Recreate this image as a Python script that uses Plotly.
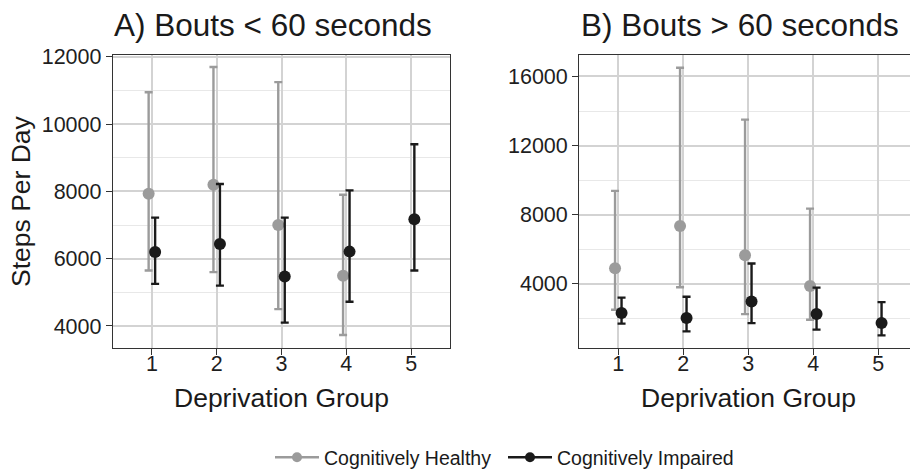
import numpy as np
import plotly.graph_objects as go

groups = [1, 2, 3, 4, 5]

# Panel A: Bouts < 60 seconds
a_healthy_groups = [1, 2, 3, 4]
a_healthy_mean = [7930, 8200, 7000, 5490]
a_healthy_upper = [10950, 11700, 11250, 7900]
a_healthy_lower = [5650, 5600, 4500, 3730]

a_impaired_groups = [1, 2, 3, 4, 5]
a_impaired_mean = [6200, 6440, 5470, 6210, 7170]
a_impaired_upper = [7220, 8220, 7220, 8030, 9400]
a_impaired_lower = [5250, 5200, 4100, 4720, 5650]

# Panel B: Bouts > 60 seconds
b_healthy_groups = [1, 2, 3, 4]
b_healthy_mean = [4900, 7350, 5650, 3880]
b_healthy_upper = [9380, 16500, 13500, 8350]
b_healthy_lower = [2500, 3800, 2250, 1920]

b_impaired_groups = [1, 2, 3, 4, 5]
b_impaired_mean = [2310, 2020, 2980, 2250, 1730]
b_impaired_upper = [3200, 3250, 5180, 3780, 2940]
b_impaired_lower = [1700, 1250, 1730, 1350, 1020]

a_yticks = [4000, 6000, 8000, 10000, 12000]
b_yticks = [4000, 8000, 12000, 16000]

series_names = ["Cognitively Healthy", "Cognitively Impaired"]
GRAY = "#9b9b9b"
BLACK = "#1a1a1a"
FONT = "Liberation Sans, Arial, sans-serif"
DODGE = 0.05

W, H = 910, 470


def px_x(p):
    return p / W


def px_y(p):
    return (H - p) / H


fig = go.Figure()


def add_series(groups_, mean, upper, lower, color, offset, xa, ya):
    m = np.array(mean)
    fig.add_trace(go.Scatter(
        x=np.array(groups_) + offset, y=m, mode="markers",
        marker=dict(color=color, size=12),
        error_y=dict(type="data", symmetric=False,
                     array=np.array(upper) - m, arrayminus=m - np.array(lower),
                     color=color, thickness=2.4, width=4),
        xaxis=xa, yaxis=ya, showlegend=False, hoverinfo="skip"))


add_series(a_healthy_groups, a_healthy_mean, a_healthy_upper, a_healthy_lower, GRAY, -DODGE, "x", "y")
add_series(a_impaired_groups, a_impaired_mean, a_impaired_upper, a_impaired_lower, BLACK, DODGE, "x", "y")
add_series(b_healthy_groups, b_healthy_mean, b_healthy_upper, b_healthy_lower, GRAY, -DODGE, "x2", "y2")
add_series(b_impaired_groups, b_impaired_mean, b_impaired_upper, b_impaired_lower, BLACK, DODGE, "x2", "y2")

for name, color, lg in zip(series_names, [GRAY, BLACK], ["legend", "legend2"]):
    fig.add_trace(go.Scatter(x=[None], y=[None], mode="lines+markers", name=name,
                             line=dict(color=color, width=2.4), legend=lg,
                             marker=dict(color=color, size=10), xaxis="x", yaxis="y"))

y_dom = [px_y(348), px_y(54.5)]
grid_major = "#d3d3d3"
grid_minor = "#e8e8e8"
axis_line = "#333333"

common_x = dict(tickmode="array", tickvals=groups, ticktext=[str(g) for g in groups],
                showgrid=True, gridcolor=grid_major, gridwidth=1.6, zeroline=False,
                ticks="outside", ticklen=6, tickwidth=1.4, tickcolor=axis_line,
                tickfont=dict(size=21.5, color="#1e1e1e", family=FONT), ticklabelstandoff=-10,
                showline=True, linecolor=axis_line, linewidth=1.4, automargin=False)
common_y = dict(showgrid=True, gridcolor=grid_major, gridwidth=1.6, zeroline=False,
                ticks="outside", ticklen=6, tickwidth=1.4, tickcolor=axis_line,
                tickfont=dict(size=21.5, color="#1e1e1e", family=FONT),
                showline=True, linecolor=axis_line, linewidth=1.4, automargin=False)

legend_common = dict(orientation="h", yanchor="bottom", y=-7.0 / H,
                     font=dict(size=19.5, family=FONT, color="#1a1a1a"),
                     bgcolor="rgba(0,0,0,0)", itemwidth=44)

fig.update_layout(
    width=W, height=H, margin=dict(l=0, r=0, t=0, b=0, autoexpand=False),
    paper_bgcolor="white", plot_bgcolor="white",
    font=dict(family=FONT, color="#1a1a1a"),
    xaxis=dict(domain=[px_x(113), px_x(450)], range=[0.4, 5.6], anchor="y", mirror=True, **common_x),
    yaxis=dict(domain=y_dom, range=[3345, 12070], anchor="x", mirror=True,
               tickvals=a_yticks, ticktext=[str(v) for v in a_yticks],
               minor=dict(dtick=1000, tick0=0, showgrid=True, gridcolor=grid_minor, gridwidth=1.2, ticks=""),
               **common_y),
    xaxis2=dict(domain=[px_x(579.3), 1.0], range=[0.4, 0.4 + (910 - 579.3) / 65.0], anchor="y2", mirror=True, **common_x),
    yaxis2=dict(domain=y_dom, range=[288, 17270], anchor="x2", mirror=False,
                tickvals=b_yticks, ticktext=[str(v) for v in b_yticks],
                minor=dict(dtick=2000, tick0=0, showgrid=True, gridcolor=grid_minor, gridwidth=1.2, ticks=""),
                **common_y),
    legend=dict(x=px_x(270), xanchor="left", **legend_common),
    legend2=dict(x=px_x(503), xanchor="left", **legend_common),
    showlegend=True,
)

annots = [
    dict(text="A) Bouts < 60 seconds", x=px_x(112), y=px_y(25), xanchor="left", yanchor="middle",
         font=dict(size=31.5, family=FONT, color="#1a1a1a")),
    dict(text="B) Bouts > 60 seconds", x=px_x(579), y=px_y(25), xanchor="left", yanchor="middle",
         font=dict(size=31.5, family=FONT, color="#1a1a1a")),
    dict(text="Deprivation Group", x=px_x(281.5), y=px_y(398), xanchor="center", yanchor="middle",
         font=dict(size=26.5, family=FONT, color="#1a1a1a")),
    dict(text="Deprivation Group", x=px_x(748), y=px_y(398), xanchor="center", yanchor="middle",
         font=dict(size=26.5, family=FONT, color="#1a1a1a")),
    dict(text="Steps Per Day", x=px_x(21), y=px_y(201), xanchor="center", yanchor="middle",
         textangle=-90, font=dict(size=26.5, family=FONT, color="#1a1a1a")),
]
for a in annots:
    a.update(xref="paper", yref="paper", showarrow=False)
fig.update_layout(annotations=annots)

fig.write_html("out.html")
